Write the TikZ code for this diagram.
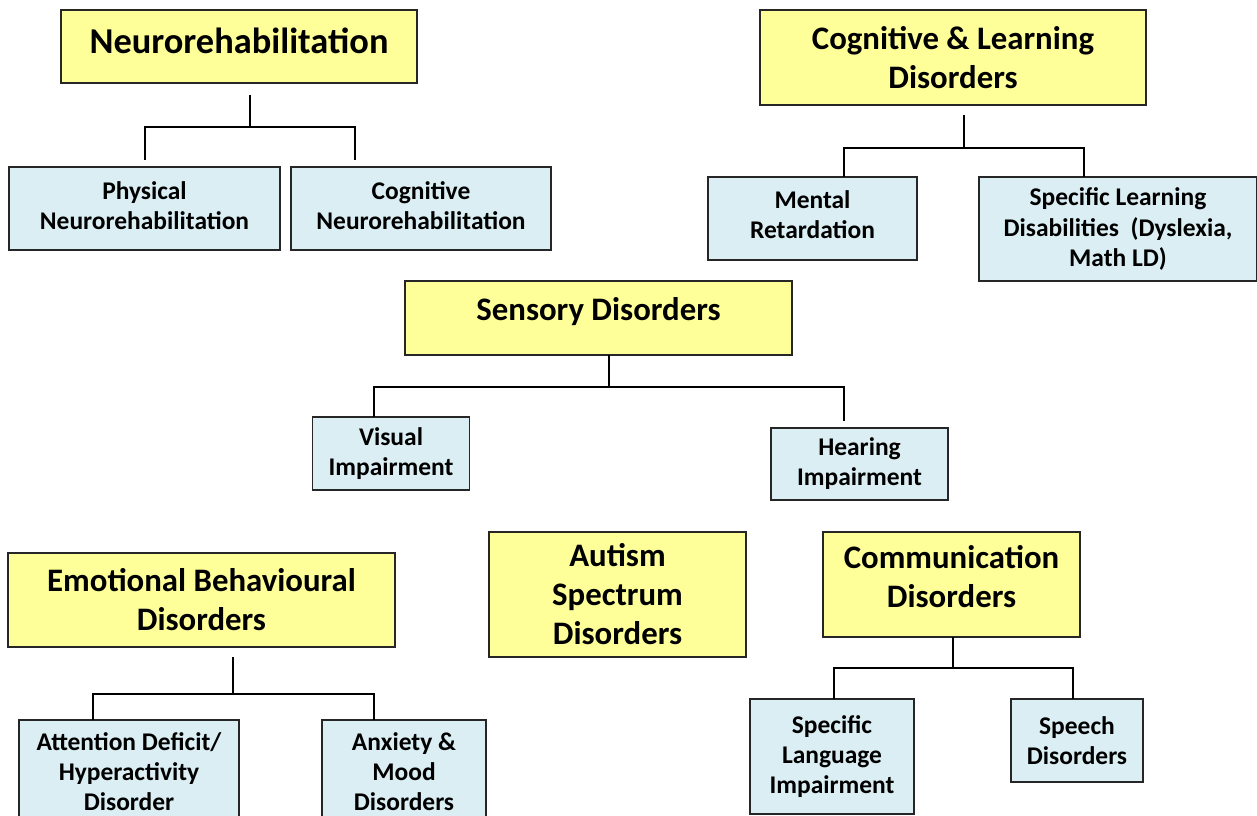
\documentclass[tikz,border=0pt]{standalone}
\usepackage{fontspec}
\setmainfont{Carlito}
\definecolor{hyel}{HTML}{FFFF99}
\definecolor{sblue}{HTML}{DAEEF3}
\definecolor{edge}{HTML}{262626}
\newcommand{\dropdepth}[1]{\rule[-#1]{0pt}{0pt}}
\begin{document}
\begin{tikzpicture}[x=0.75pt,y=-0.75pt,
  hbox/.style={draw=edge,line width=1.3pt,fill=hyel,rectangle,align=center,inner sep=0pt,
    font=\fontsize{24.6pt}{29.3pt}\selectfont\bfseries},
  sbox/.style={draw=edge,line width=1.1pt,fill=sblue,rectangle,align=center,inner sep=0pt,
    font=\fontsize{19.1pt}{22.6pt}\selectfont\bfseries},
  conn/.style={draw=black,line width=1.6pt}]
\useasboundingbox (0,0) rectangle (1257,816);
% Neurorehabilitation
\node[hbox,minimum width=267pt,minimum height=54.75pt,font=\fontsize{27.3pt}{32pt}\selectfont\bfseries] (neuro) at (239,46.5) {Neurorehabilitation\dropdepth{9pt}};
\node[sbox,minimum width=203.25pt,minimum height=62.25pt] (phys) at (144.5,208.5) {Physical\\Neurorehabilitation\dropdepth{4pt}};
\node[sbox,minimum width=195pt,minimum height=62.25pt] (cogn) at (421,208.5) {Cognitive\\Neurorehabilitation\dropdepth{4pt}};
% Cognitive & Learning
\node[hbox,minimum width=289.5pt,minimum height=71.25pt] (cogl) at (953,57.5) {Cognitive \& Learning\\Disorders};
\node[sbox,minimum width=156.75pt,minimum height=62.25pt] (ment) at (812.5,218.5) {Mental\\Retardation\dropdepth{6pt}};
\node[sbox,minimum width=208.5pt,minimum height=78pt] (sld) at (1118,229) {Specific Learning\\Disabilities~ (Dyslexia,\\Math LD)};
% Sensory
\node[hbox,minimum width=290.25pt,minimum height=55.5pt] (sens) at (598.5,318) {Sensory Disorders\dropdepth{14pt}};
\node[sbox,minimum width=117.75pt,minimum height=54.75pt] (vis) at (391,453.5) {Visual\\Impairment};
\node[sbox,minimum width=132.75pt,minimum height=54pt] (hear) at (859.5,464) {Hearing\\Impairment};
% Emotional
\node[hbox,minimum width=290.25pt,minimum height=70.5pt] (emo) at (201.5,600) {Emotional Behavioural\\Disorders};
\node[sbox,minimum width=165pt,minimum height=78pt] (adhd) at (129,772) {Attention Deficit/\\Hyperactivity\\Disorder};
\node[sbox,minimum width=123pt,minimum height=78pt] (anx) at (404,772) {Anxiety \&\\Mood\\Disorders};
% Autism
\node[hbox,minimum width=192.75pt,minimum height=93.75pt] (aut) at (617.5,594.5) {Autism\\Spectrum\\Disorders};
% Communication
\node[hbox,minimum width=192.75pt,minimum height=78.75pt] (comm) at (951.5,584.5) {Communication\\Disorders\dropdepth{12pt}};
\node[sbox,minimum width=123pt,minimum height=86.25pt] (sli) at (832,756.5) {Specific\\Language\\Impairment};
\node[sbox,minimum width=99pt,minimum height=62.25pt] (spch) at (1077,740.5) {Speech\\Disorders};
% connector end points
\coordinate (n0) at (250,95);
\coordinate (n1) at (145,160);
\coordinate (n2) at (355,160);
\coordinate (c0) at (964,115);
\coordinate (c1) at (844,177);
\coordinate (c2) at (1084,177);
\coordinate (s0) at (609,355);
\coordinate (s1) at (374,417);
\coordinate (s2) at (844,421);
\coordinate (e0) at (233,657);
\coordinate (e1) at (93,720);
\coordinate (e2) at (374,720);
\coordinate (m0) at (953,637);
\coordinate (m1) at (834,699);
\coordinate (m2) at (1073,699);
% connectors
\draw[conn] (n0) -- ++(0,32) -| (n1);
\draw[conn] (n0) -- ++(0,32) -| (n2);
\draw[conn] (c0) -- ++(0,33) -| (c1);
\draw[conn] (c0) -- ++(0,33) -| (c2);
\draw[conn] (s0) -- ++(0,32) -| (s1);
\draw[conn] (s0) -- ++(0,32) -| (s2);
\draw[conn] (e0) -- ++(0,37) -| (e1);
\draw[conn] (e0) -- ++(0,37) -| (e2);
\draw[conn] (m0) -- ++(0,31) -| (m1);
\draw[conn] (m0) -- ++(0,31) -| (m2);
\end{tikzpicture}
\end{document}
